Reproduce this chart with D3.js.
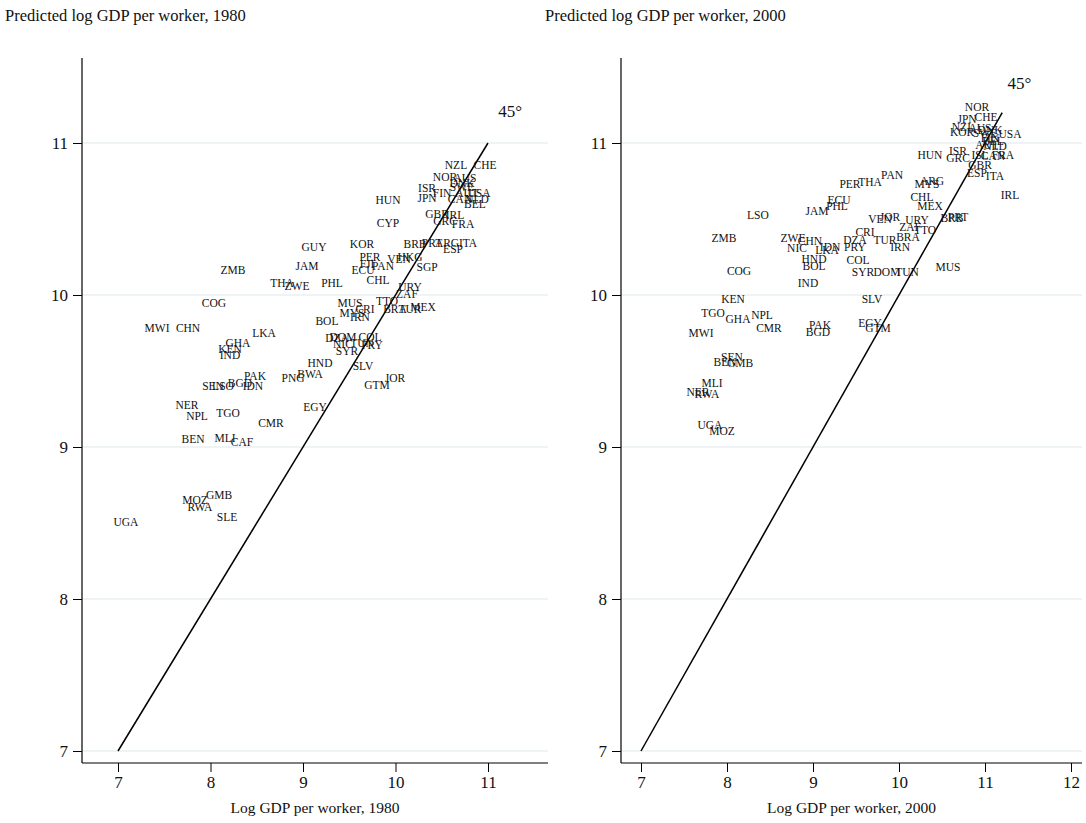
<!DOCTYPE html>
<html><head><meta charset="utf-8">
<script src="https://cdn.jsdelivr.net/npm/d3@7"></script>
<style>
body{margin:0;background:#fff;}
svg text{font-family:"Liberation Serif","Times New Roman",serif;fill:#111;}
</style></head>
<body><svg id="chart" width="1086" height="823"></svg>
<script>
// ---------- Data: 1980 panel ----------
const codes1980 = ["NZL","CHE","NOR","AUS","DNK","SWE","ISR","JPN","FIN","AUT","USA","CAN","NLD","BEL","HUN","GBR","IRL","GRC","FRA","CYP","KOR","BRB","PRT","ARG","ITA","ESP","PER","HKG","VEN","SGP","FJI","PAN","ECU","CHL","URY","GUY","JAM","ZMB","THA","ZWE","PHL","COG","MWI","CHN","LKA","GHA","KEN","IND","BOL","ZAF","MUS","TTO","CRI","MYS","BRA","TUR","MEX","IRN","DOM","DZA","COL","NIC","TUN","PRY","SYR","HND","SLV","BWA","PNG","GTM","JOR","EGY","PAK","SEN","LSO","BGD","IDN","NER","NPL","TGO","CMR","BEN","MLI","CAF","GMB","MOZ","RWA","SLE","UGA"];
const actual1980 = [10.654,10.968,10.535,10.751,10.719,10.719,10.341,10.341,10.503,10.773,10.903,10.697,10.881,10.859,9.919,10.449,10.643,10.535,10.730,9.919,9.638,10.211,10.395,10.557,10.784,10.622,9.724,10.157,10.038,10.341,9.692,9.865,9.649,9.811,10.157,9.119,9.043,8.243,8.773,8.935,9.314,8.038,7.422,7.757,8.578,8.297,8.211,8.211,9.259,10.124,9.508,9.908,9.670,9.530,9.995,10.157,10.297,9.616,9.432,9.368,9.724,9.432,9.638,9.746,9.476,9.184,9.649,9.076,8.892,9.800,9.995,9.130,8.481,8.027,8.135,8.319,8.459,7.746,7.854,8.189,8.654,7.811,8.157,8.341,8.092,7.832,7.886,8.178,7.086];
const predicted1980 = [10.855,10.855,10.776,10.770,10.737,10.711,10.704,10.638,10.671,10.671,10.671,10.632,10.632,10.599,10.625,10.533,10.526,10.487,10.467,10.474,10.336,10.336,10.342,10.342,10.342,10.303,10.250,10.250,10.237,10.184,10.204,10.191,10.164,10.099,10.053,10.316,10.191,10.164,10.079,10.059,10.079,9.947,9.783,9.783,9.750,9.684,9.645,9.605,9.829,10.007,9.947,9.961,9.908,9.882,9.908,9.908,9.921,9.855,9.724,9.717,9.724,9.678,9.684,9.671,9.632,9.553,9.533,9.480,9.454,9.408,9.454,9.263,9.467,9.401,9.401,9.421,9.401,9.276,9.204,9.224,9.158,9.053,9.059,9.033,8.684,8.651,8.605,8.539,8.507];

// ---------- Data: 2000 panel ----------
const codes2000 = ["NOR","JPN","CHE","NZL","KOR","AUS","DNK","SWE","USA","FIN","BEL","AUT","NLD","HUN","ISR","GRC","ISL","CAN","FRA","GBR","ESP","ITA","IRL","ARG","MYS","CHL","MEX","PER","THA","PAN","ECU","PHL","JAM","LSO","BRB","PRT","VEN","JOR","URY","ZAF","TTO","CRI","DZA","TUR","BRA","IRN","PRY","ZMB","ZWE","CHN","NIC","LKA","IDN","HND","BOL","COL","SYR","DOM","TUN","MUS","COG","IND","KEN","SLV","TGO","GHA","NPL","CMR","MWI","PAK","BGD","EGY","GTM","BEN","SEN","GMB","MLI","NER","RWA","UGA","MOZ"];
const actual2000 = [10.907,10.791,11.012,10.744,10.733,10.942,11.058,11.000,11.291,11.058,11.093,11.023,11.116,10.360,10.686,10.686,10.942,11.093,11.209,10.942,10.907,11.116,11.291,10.384,10.326,10.267,10.360,9.430,9.663,9.919,9.302,9.279,9.047,8.360,10.616,10.686,9.779,9.895,10.209,10.128,10.302,9.605,9.488,9.837,10.105,10.012,9.488,7.965,8.767,8.965,8.814,9.163,9.198,9.012,9.012,9.523,9.581,9.860,10.093,10.570,8.140,8.942,8.070,9.686,7.837,8.128,8.407,8.488,7.698,9.081,9.058,9.663,9.756,7.977,8.058,8.151,7.826,7.663,7.767,7.802,7.942];
const predicted2000 = [11.237,11.158,11.171,11.105,11.072,11.099,11.086,11.066,11.059,11.033,11.013,10.987,10.980,10.921,10.947,10.901,10.921,10.914,10.921,10.855,10.803,10.783,10.658,10.750,10.730,10.645,10.586,10.730,10.743,10.789,10.625,10.586,10.553,10.526,10.507,10.513,10.500,10.513,10.493,10.447,10.428,10.414,10.362,10.362,10.382,10.316,10.316,10.375,10.375,10.355,10.309,10.296,10.316,10.237,10.191,10.230,10.151,10.151,10.151,10.184,10.158,10.079,9.974,9.974,9.882,9.842,9.868,9.783,9.750,9.803,9.757,9.816,9.783,9.559,9.592,9.553,9.421,9.362,9.349,9.145,9.105];

const yTicks = [7,8,9,10,11];
const xTicks1980 = [7,8,9,10,11];
const xTicks2000 = [7,8,9,10,11,12];
const titles = ["Predicted log GDP per worker, 1980","Predicted log GDP per worker, 2000"];
const xTitles = ["Log GDP per worker, 1980","Log GDP per worker, 2000"];
const lineEnds = [11, 11.2];
const degLabel = "45°";
const degPos = [[11.24, 11.2],[11.4, 11.38]];

const svg = d3.select("#chart");

const panels = [
  {codes:codes1980, xs:actual1980, ys:predicted1980, xTicks:xTicks1980,
   xDom:[7,11], xRange:[118,488], axisX:[82,548], titleX:5},
  {codes:codes2000, xs:actual2000, ys:predicted2000, xTicks:xTicks2000,
   xDom:[7,12], xRange:[641,1071], axisX:[621,1082], titleX:545}
];

const y = d3.scaleLinear().domain([7,11]).range([751,143]);
const axisTop = 58, axisBottom = 763;

panels.forEach((p,i)=>{
  const x = d3.scaleLinear().domain(p.xDom).range(p.xRange);
  const g = svg.append("g");

  // gridlines
  g.selectAll("line.grid").data(yTicks).join("line")
    .attr("x1",p.axisX[0]).attr("x2",p.axisX[1])
    .attr("y1",d=>y(d)).attr("y2",d=>y(d))
    .attr("stroke","#e8f0f2").attr("stroke-width",1.3);

  // y axis
  const yAxis = d3.axisLeft(y).tickValues(yTicks).tickSize(9).tickPadding(5).tickFormat(d3.format("d"));
  const ya = g.append("g").attr("transform",`translate(${p.axisX[0]},0)`).call(yAxis);
  ya.select(".domain").attr("d",`M0,${axisTop}V${axisBottom}`).attr("stroke","#000").attr("stroke-width",1.2);
  ya.selectAll("text").attr("font-size",17).attr("font-family","Liberation Serif").attr("fill","#111");

  // x axis
  const xAxis = d3.axisBottom(x).tickValues(p.xTicks).tickSize(9).tickPadding(4).tickFormat(d3.format("d"));
  const xa = g.append("g").attr("transform",`translate(0,${axisBottom})`).call(xAxis);
  xa.select(".domain").attr("d",`M${p.axisX[0]},0H${p.axisX[1]}`).attr("stroke","#000").attr("stroke-width",1.2);
  xa.selectAll("text").attr("font-size",17).attr("font-family","Liberation Serif").attr("fill","#111");

  // 45 degree line
  g.append("line")
    .attr("x1",x(7)).attr("y1",y(7))
    .attr("x2",x(lineEnds[i])).attr("y2",y(lineEnds[i]))
    .attr("stroke","#000").attr("stroke-width",1.5);
  g.append("text").attr("x",x(degPos[i][0])).attr("y",y(degPos[i][1]))
    .attr("text-anchor","middle").attr("dominant-baseline","middle")
    .attr("font-size",17).text(degLabel);

  // country labels
  g.selectAll("text.lab").data(p.codes).join("text")
    .attr("class","lab")
    .attr("x",(d,k)=>x(p.xs[k])).attr("y",(d,k)=>y(p.ys[k]))
    .attr("text-anchor","middle").attr("dominant-baseline","central")
    .attr("font-size",11.5).attr("fill","#1a1a1a")
    .text(d=>d);

  // titles
  svg.append("text").attr("x", p.titleX).attr("y",21)
    .attr("font-size",16.5).text(titles[i]);
  svg.append("text").attr("x",(p.axisX[0]+p.axisX[1])/2).attr("y",813)
    .attr("text-anchor","middle").attr("font-size",15.5).text(xTitles[i]);
});
</script>
</body></html>
